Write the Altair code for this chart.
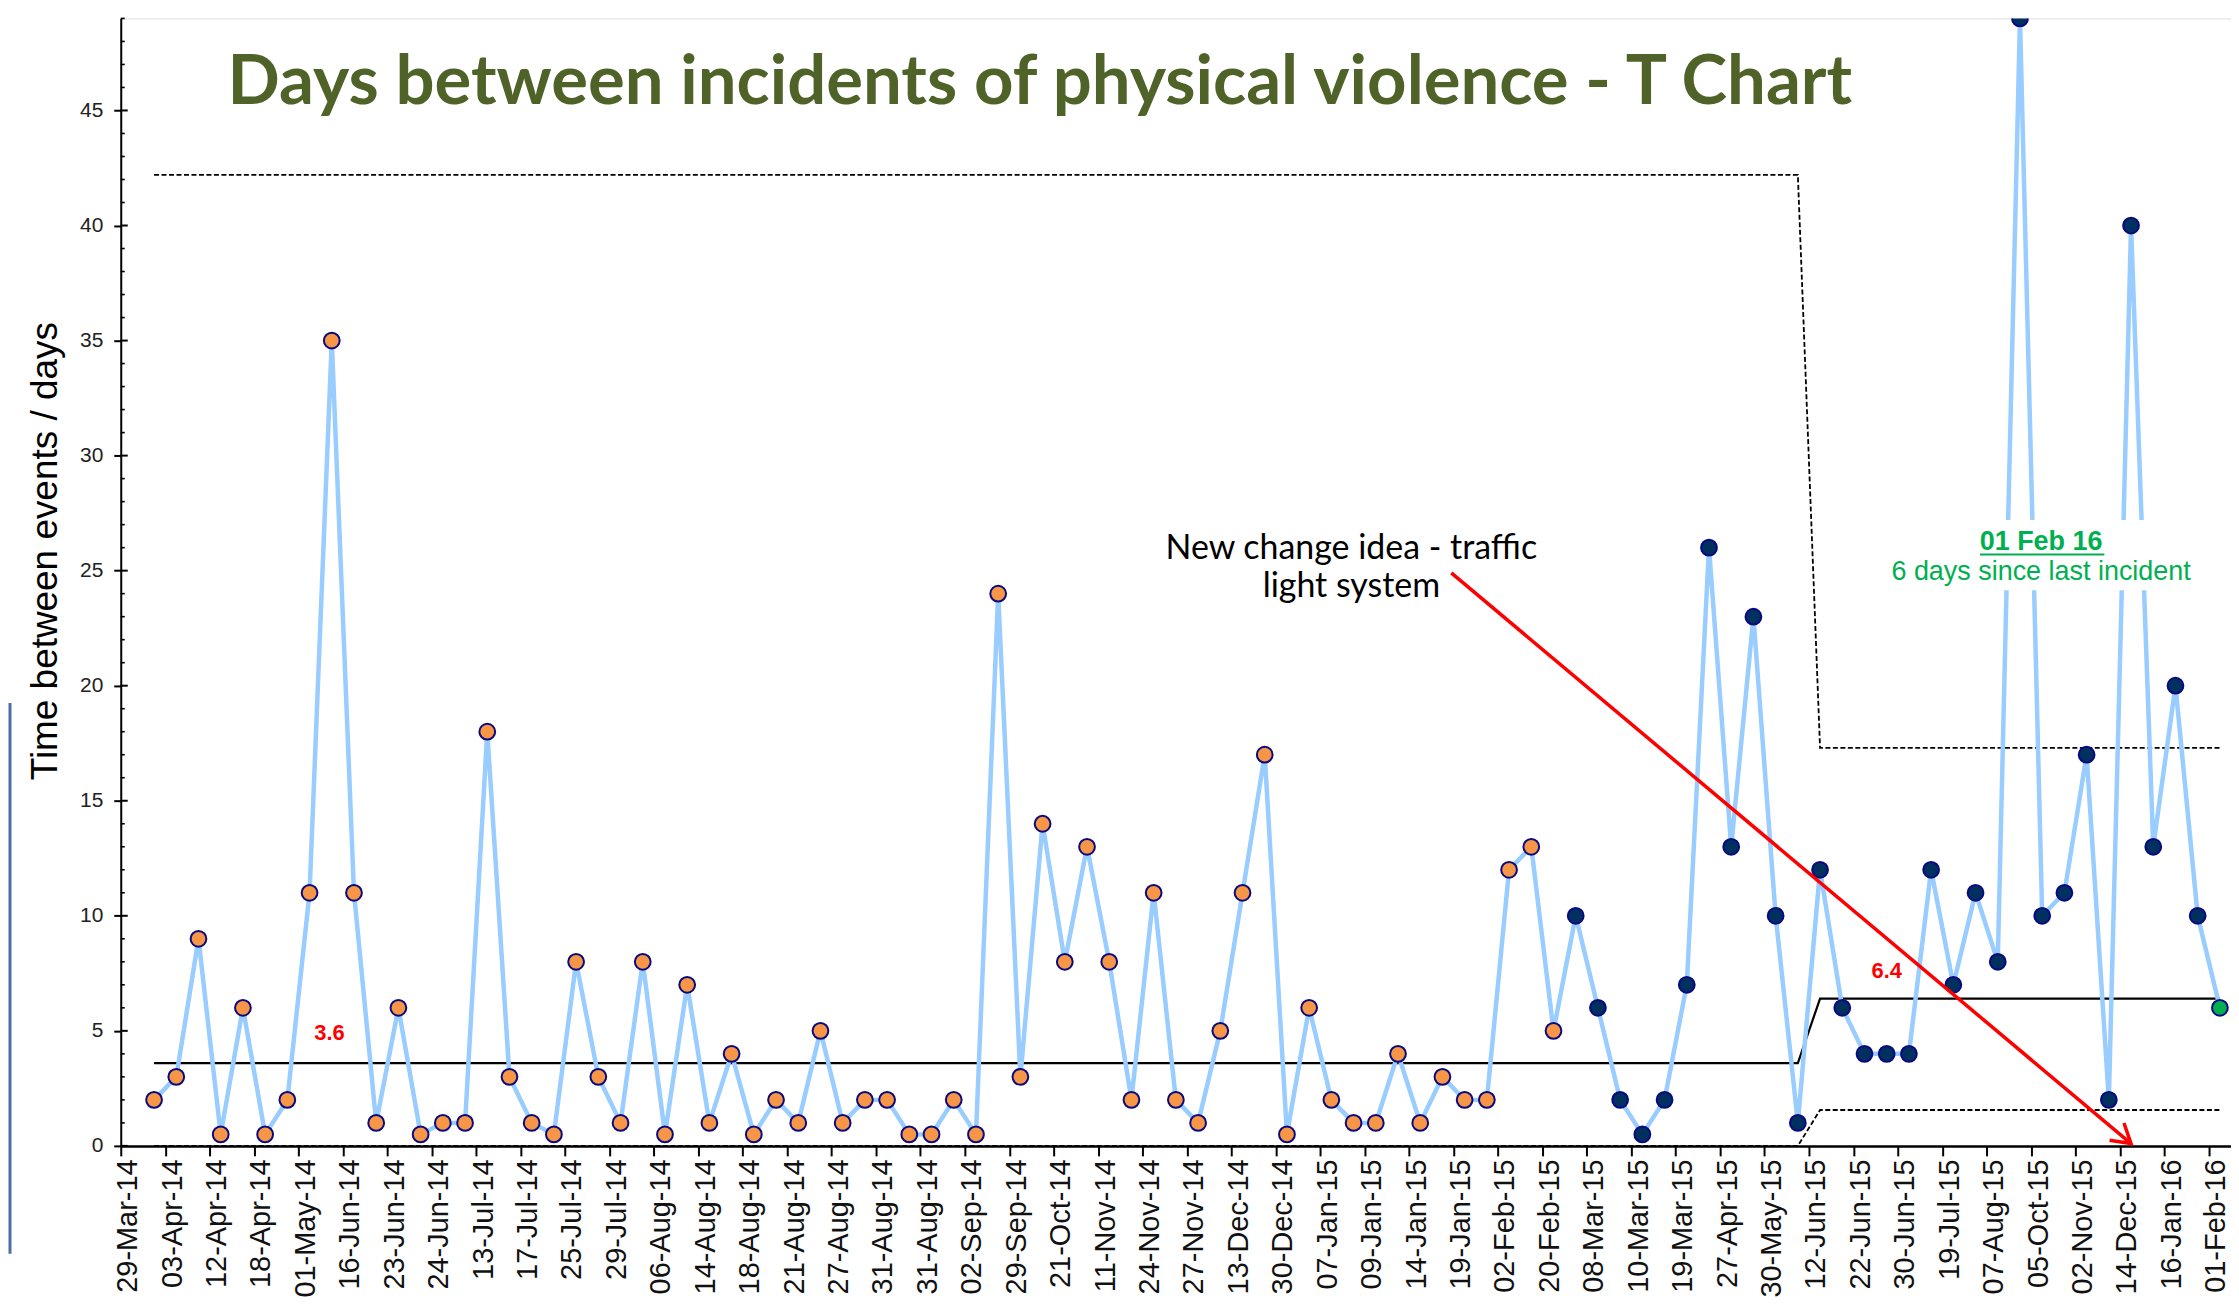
import json
import math
import altair as alt
import pandas as pd

# ---------------- data ----------------
days_between = [
    2, 3, 9, 0.5, 6, 0.5, 2, 11, 35, 11, 1, 6, 0.5, 1, 1, 18, 3, 1, 0.5,
    8, 3, 1, 8, 0.5, 7, 1, 4, 0.5, 2, 1, 5, 1, 2, 2, 0.5, 0.5, 2, 0.5, 24, 3, 14, 8, 13,
    8, 2, 11, 2, 1, 5, 11, 17, 0.5, 6, 2, 1, 1, 4, 1, 3, 2, 2, 12, 13, 5, 10, 6, 2, 0.5,
    2, 7, 26, 13, 23, 10, 1, 12, 6, 4, 4, 4, 12, 7, 11, 8, 49, 10, 11, 17, 2, 40, 13, 20, 10, 6,
]
point_groups = ["baseline"] * 64 + ["signal"] * 29 + ["latest"] * 1
phase_lengths = [75, 19]
centre_line = [3.6, 6.4]
upper_limit = [42.2, 17.3]
lower_limit = [0.0, 1.56]

tick_labels = [
    "29-Mar-14", "03-Apr-14", "12-Apr-14", "18-Apr-14", "01-May-14", "16-Jun-14",
    "23-Jun-14", "24-Jun-14", "13-Jul-14", "17-Jul-14", "25-Jul-14", "29-Jul-14",
    "06-Aug-14", "14-Aug-14", "18-Aug-14", "21-Aug-14", "27-Aug-14", "31-Aug-14",
    "31-Aug-14", "02-Sep-14", "29-Sep-14", "21-Oct-14", "11-Nov-14", "24-Nov-14",
    "27-Nov-14", "13-Dec-14", "30-Dec-14", "07-Jan-15", "09-Jan-15", "14-Jan-15",
    "19-Jan-15", "02-Feb-15", "20-Feb-15", "08-Mar-15", "10-Mar-15", "19-Mar-15",
    "27-Apr-15", "30-May-15", "12-Jun-15", "22-Jun-15", "30-Jun-15", "19-Jul-15",
    "07-Aug-15", "05-Oct-15", "02-Nov-15", "14-Dec-15", "16-Jan-16", "01-Feb-16",
]

# annotations (data coordinates)
limit_label_text = ["3.6", "6.4"]
limit_label_x = [9.4, 79.5]
limit_label_y = [4.9, 7.6]
arrow_x = [59.9, 90.5]
arrow_y = [24.9, 0.1]
idea_lines = ["New change idea - traffic", "light system"]
idea_x = [55.4, 55.4]
idea_y = [25.95, 24.3]
status_lines = ["01 Feb 16", "6 days since last incident"]
status_x = [86.45, 86.45]
status_y = [26.25, 24.95]
status_box = {"x": 79.6, "x2": 93.4, "y": 24.15, "y2": 27.2}
underline = {"x": 83.7, "x2": 89.3, "y": 25.7}

TITLE = "Days between incidents of physical violence - T Chart"
Y_TITLE = "Time between events / days"

X_MAX = 95
Y_MAX = 49
W = 2115
H = 1130

# ---------------- frames ----------------
n = len(days_between)
pos = [i + 1.5 for i in range(n)]
phase = []
for k, L in enumerate(phase_lengths):
    phase += [k] * L
df = pd.DataFrame({
    "pos": pos,
    "val": days_between,
    "grp": point_groups,
    "cl": [centre_line[p] for p in phase],
    "ucl": [upper_limit[p] for p in phase],
    "lcl": [lower_limit[p] for p in phase],
})

xs = alt.Scale(domain=[0, X_MAX], nice=False, zero=False)
ys = alt.Scale(domain=[0, Y_MAX], nice=False)

label_expr = f"datum.value % 2 == 0 ? {json.dumps(tick_labels)}[datum.value / 2] : ''"

x_axis = alt.Axis(
    values=list(range(X_MAX + 1)), labelExpr=label_expr, labelAngle=-90,
    labelFont="Liberation Sans", labelFontSize=29, labelColor="#111111",
    labelOverlap=False, labelPadding=3, labelOffset=7, tickSize=10, tickWidth=2,
    tickColor="#000000", domainColor="#000000", domainWidth=2.5, grid=False, title=None,
)
y_axis = alt.Axis(
    values=list(range(0, 50, 5)), labelFont="Liberation Sans", labelFontSize=21,
    labelColor="#222222", labelPadding=11, tickSize=7, tickWidth=2, tickColor="#000000",
    domainColor="#000000", domainWidth=2, grid=False, title=None,
)

base = alt.Chart(df)

ucl_line = base.mark_line(color="#000000", strokeWidth=1.8, strokeDash=[5, 2.5]).encode(
    x=alt.X("pos:Q", scale=xs, axis=x_axis), y=alt.Y("ucl:Q", scale=ys, axis=y_axis))
lcl_line = base.mark_line(color="#000000", strokeWidth=1.8, strokeDash=[5, 2.5]).encode(
    x=alt.X("pos:Q", scale=xs), y=alt.Y("lcl:Q", scale=ys))
cl_line = base.mark_line(color="#000000", strokeWidth=2.2).encode(
    x=alt.X("pos:Q", scale=xs), y=alt.Y("cl:Q", scale=ys))

data_line = base.mark_line(color="#99CCFF", strokeWidth=4.5, clip=True).encode(
    x=alt.X("pos:Q", scale=xs), y=alt.Y("val:Q", scale=ys))
points = base.mark_point(filled=True, size=250, stroke="#0A0A80", strokeWidth=2,
                         opacity=1, clip=True).encode(
    x=alt.X("pos:Q", scale=xs), y=alt.Y("val:Q", scale=ys),
    fill=alt.Fill("grp:N", scale=alt.Scale(domain=["baseline", "signal", "latest"],
                                             range=["#F79646", "#00305F", "#00B050"]),
                  legend=None),
)

# inner y ticks
yt = pd.DataFrame({"v": list(range(0, Y_MAX + 1))})
yt["major"] = yt["v"] % 5 == 0
inner_major = alt.Chart(yt[yt["major"]]).mark_rule(color="#000000", strokeWidth=2).encode(
    y=alt.Y("v:Q", scale=ys), x=alt.value(0), x2=alt.value(7))
inner_minor = alt.Chart(yt[~yt["major"]]).mark_rule(color="#000000", strokeWidth=1.6).encode(
    y=alt.Y("v:Q", scale=ys), x=alt.value(0), x2=alt.value(4))

# limit value labels
lim_df = pd.DataFrame({"t": limit_label_text, "x": limit_label_x, "y": limit_label_y})
lim_text = alt.Chart(lim_df).mark_text(font="Liberation Sans", fontWeight="bold", fontSize=22,
                                       color="#FF0000", baseline="middle", align="center").encode(
    x=alt.X("x:Q", scale=xs), y=alt.Y("y:Q", scale=ys), text="t:N")

# red arrow
arr_df = pd.DataFrame({"x": [arrow_x[0]], "y": [arrow_y[0]], "x2": [arrow_x[1]], "y2": [arrow_y[1]]})
arrow = alt.Chart(arr_df).mark_rule(color="#FF0000", strokeWidth=3.5).encode(
    x=alt.X("x:Q", scale=xs), y=alt.Y("y:Q", scale=ys), x2="x2:Q", y2="y2:Q")
dx_px = (arrow_x[1] - arrow_x[0]) * W / X_MAX
dy_px = (arrow_y[0] - arrow_y[1]) * H / Y_MAX
ang = math.degrees(math.atan2(dy_px, dx_px))
head_df = pd.DataFrame({"x": [arrow_x[1]], "y": [arrow_y[1]], "a": [ang]})
head = alt.Chart(head_df).mark_point(shape="M -1 -0.6 L 0 0 L -1 0.6", filled=False, size=1400,
                                     stroke="#FF0000", strokeWidth=3.5, opacity=1).encode(
    x=alt.X("x:Q", scale=xs), y=alt.Y("y:Q", scale=ys), angle=alt.Angle("a:Q", scale=None))

# change idea text
idea_df = pd.DataFrame({"t": idea_lines, "x": idea_x, "y": idea_y})
idea = alt.Chart(idea_df).mark_text(font="Lato", fontSize=34, color="#000000",
                                    baseline="middle", align="center").encode(
    x=alt.X("x:Q", scale=xs), y=alt.Y("y:Q", scale=ys), text="t:N")

# status box
box_df = pd.DataFrame([status_box])
box = alt.Chart(box_df).mark_rect(color="#FFFFFF").encode(
    x=alt.X("x:Q", scale=xs), x2="x2:Q", y=alt.Y("y:Q", scale=ys), y2="y2:Q")
st_df = pd.DataFrame({"t": status_lines, "x": status_x, "y": status_y})
status1 = alt.Chart(st_df.iloc[[0]]).mark_text(font="Liberation Sans", fontSize=27, fontWeight="bold",
                                               color="#00B050", baseline="middle", align="center").encode(
    x=alt.X("x:Q", scale=xs), y=alt.Y("y:Q", scale=ys), text="t:N")
status2 = alt.Chart(st_df.iloc[[1]]).mark_text(font="Liberation Sans", fontSize=27,
                                               color="#00B050", baseline="middle", align="center").encode(
    x=alt.X("x:Q", scale=xs), y=alt.Y("y:Q", scale=ys), text="t:N")
ul = alt.Chart(pd.DataFrame([underline])).mark_rule(color="#00B050", strokeWidth=2).encode(
    x=alt.X("x:Q", scale=xs), x2="x2:Q", y=alt.Y("y:Q", scale=ys))

# titles
title = alt.Chart(pd.DataFrame({"t": [TITLE]})).mark_text(
    font="Lato", fontWeight="bold", fontSize=69, color="#4F6228", align="left",
    baseline="alphabetic").encode(x=alt.value(107), y=alt.value(86), text="t:N")
ytitle = alt.Chart(pd.DataFrame({"t": [Y_TITLE]})).mark_text(
    font="Liberation Sans", fontSize=37, color="#000000", align="center", baseline="middle",
    angle=270).encode(x=alt.value(-75), y=alt.value(534), text="t:N")

left_bar = alt.Chart(pd.DataFrame({"a": [0]})).mark_rule(color="#4A6FA5", strokeWidth=3).encode(
    x=alt.value(-111), y=alt.value(686), y2=alt.value(1238))

chart = alt.layer(
    ucl_line, lcl_line, cl_line, data_line, inner_major, inner_minor, points,
    box, arrow, head, lim_text, idea, status1, status2, ul, title, ytitle, left_bar,
).properties(
    width=W, height=H, autosize="none",
    padding={"left": 113, "top": 9, "right": 0, "bottom": 150},
).configure_view(stroke=None).configure(background="#FFFFFF")

chart.save("out.html", embed_options={"renderer": "svg", "actions": False})
